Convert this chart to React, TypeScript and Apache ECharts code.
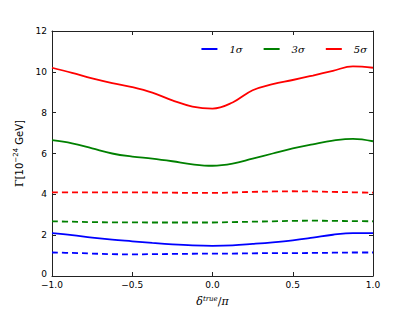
import React, { useEffect, useRef } from "react";
import * as echarts from "echarts";

const xs = [-1, -0.875, -0.75, -0.625, -0.5, -0.375, -0.25, -0.125, 0, 0.125, 0.25, 0.375, 0.5, 0.625, 0.75, 0.875, 1];
const red5 = [10.2, 9.95, 9.68, 9.45, 9.25, 8.98, 8.6, 8.3, 8.2, 8.5, 9.1, 9.4, 9.6, 9.82, 10.05, 10.27, 10.2];
const green3 = [6.65, 6.5, 6.25, 6.0, 5.85, 5.75, 5.62, 5.47, 5.4, 5.5, 5.75, 6.0, 6.25, 6.45, 6.63, 6.72, 6.6];
const blue1 = [2.1, 2.0, 1.88, 1.78, 1.7, 1.62, 1.55, 1.5, 1.48, 1.5, 1.57, 1.65, 1.75, 1.88, 2.02, 2.1, 2.1];
const red5d = [4.1, 4.1, 4.1, 4.1, 4.1, 4.09, 4.08, 4.07, 4.07, 4.09, 4.12, 4.14, 4.15, 4.14, 4.12, 4.1, 4.08];
const green3d = [2.68, 2.66, 2.64, 2.63, 2.63, 2.62, 2.62, 2.62, 2.62, 2.64, 2.66, 2.68, 2.7, 2.71, 2.7, 2.69, 2.68];
const blue1d = [1.15, 1.13, 1.1, 1.07, 1.06, 1.07, 1.08, 1.09, 1.1, 1.1, 1.11, 1.12, 1.12, 1.13, 1.14, 1.15, 1.15];
const legendNames = ["1σ", "3σ", "5σ"];

const pair = (ys: number[]) => xs.map((x, i) => [x, ys[i]]);

export default function App() {
  const ref = useRef<HTMLDivElement>(null);
  useEffect(() => {
    const chart = echarts.init(ref.current!, null, { renderer: "svg" });
    const font = "DejaVu Sans";
    const axisCommon = {
      axisLine: { show: true, onZero: false, lineStyle: { color: "#222", width: 1 } },
      axisTick: { show: true, inside: true, length: 4, lineStyle: { color: "#222" } },
      splitLine: { show: false },
    };
    const mk = (name: string, data: number[], color: string, dashed: boolean) => ({
      type: "line",
      name,
      data: pair(data),
      smooth: 0.4,
      symbol: "none",
      lineStyle: { color, width: 1.8, type: dashed ? [6, 4] : "solid" },
      itemStyle: { color },
      xAxisIndex: 0,
      yAxisIndex: 0,
    });
    chart.setOption({
      animation: false,
      backgroundColor: "#fff",
      grid: { left: 52, right: 42, top: 31, bottom: 32, containLabel: false },
      legend: {
        data: legendNames,
        icon: "rect",
        right: 43,
        top: 39,
        itemWidth: 16,
        itemHeight: 2,
        itemGap: 21,
        textStyle: { fontFamily: "DejaVu Serif", fontStyle: "italic", fontSize: 10, color: "#000", padding: [0, 0, 0, 7] },
      },
      xAxis: [
        {
          type: "value",
          min: -1,
          max: 1,
          interval: 0.5,
          ...axisCommon,
          axisLabel: {
            fontFamily: font,
            fontSize: 9,
            color: "#000",
            margin: 4,
            formatter: (v: number) => (v < 0 ? "−" + Math.abs(v).toFixed(1) : v.toFixed(1)),
          },
          name: "{i|δ}{sup|true}{n|/}{i|π}",
          nameLocation: "middle",
          nameGap: 19,
          nameTextStyle: {
            rich: {
              i: { fontFamily: "DejaVu Serif", fontStyle: "italic", fontSize: 11, color: "#000" },
              n: { fontFamily: "DejaVu Serif", fontSize: 11, color: "#000" },
              sup: { fontFamily: "DejaVu Serif", fontStyle: "italic", fontSize: 7, color: "#000", verticalAlign: "bottom", padding: [0, 0, 6, 0] },
            },
          },
        },
        {
          type: "value",
          position: "top",
          min: -1,
          max: 1,
          interval: 0.5,
          ...axisCommon,
          axisLabel: { show: false },
        },
      ],
      yAxis: [
        {
          type: "value",
          min: 0,
          max: 12,
          interval: 2,
          ...axisCommon,
          axisLabel: {
            fontFamily: font,
            fontSize: 9,
            color: "#000",
            margin: 5,
            formatter: (v: number) => (v === 0 ? "{z|0}" : String(v)),
            rich: { z: { fontFamily: font, fontSize: 9, color: "#000", padding: [0, 0, 5, 0] } },
          },
          name: "{g|Γ}{s|[10}{sup|−24}{s| GeV]}",
          nameLocation: "middle",
          nameRotate: 90,
          nameGap: 22,
          nameTextStyle: {
            rich: {
              g: { fontFamily: "DejaVu Serif", fontSize: 11, color: "#000" },
              s: { fontFamily: "DejaVu Sans", fontSize: 10, color: "#000" },
              sup: { fontFamily: "DejaVu Sans", fontSize: 7, color: "#000", verticalAlign: "bottom", padding: [0, 0, 6, 0] },
            },
          },
        },
        {
          type: "value",
          position: "right",
          min: 0,
          max: 12,
          interval: 2,
          ...axisCommon,
          axisLabel: { show: false },
        },
      ],
      series: [
        mk("1σ", blue1, "#0000ff", false),
        mk("3σ", green3, "#008000", false),
        mk("5σ", red5, "#ff0000", false),
        mk("1σ dashed", blue1d, "#0000ff", true),
        mk("3σ dashed", green3d, "#008000", true),
        mk("5σ dashed", red5d, "#ff0000", true),
      ],
    });
    return () => chart.dispose();
  }, []);
  return <div ref={ref} style={{ position: "absolute", left: 0, top: 0, width: 415, height: 312 }} />;
}
